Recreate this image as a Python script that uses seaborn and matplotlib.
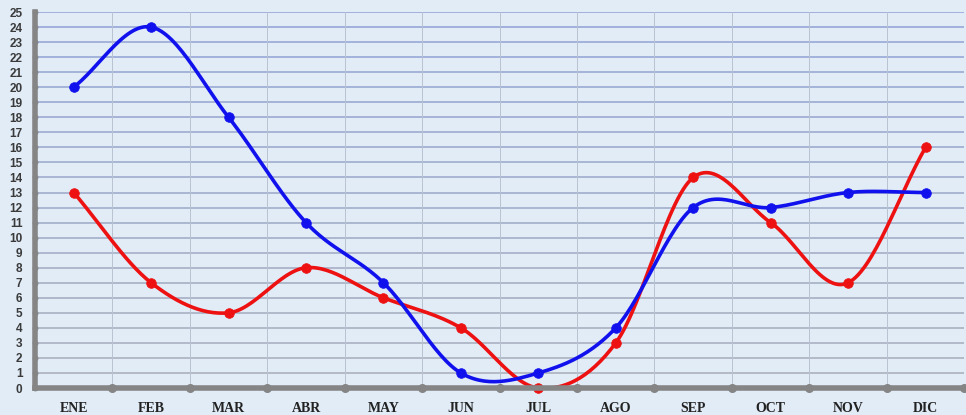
import numpy as np
import pandas as pd
import matplotlib
matplotlib.use("Agg")
import matplotlib.pyplot as plt
import seaborn as sns

meses = ['ENE', 'FEB', 'MAR', 'ABR', 'MAY', 'JUN', 'JUL', 'AGO', 'SEP', 'OCT', 'NOV', 'DIC']
serie_azul = [20, 24, 18, 11, 7, 1, 1, 4, 12, 12, 13, 13]
serie_roja = [13, 7, 5, 8, 6, 4, 0, 3, 14, 11, 7, 16]
y_ticks = list(range(0, 26))


def suavizar(vals, n=30):
    # Catmull-Rom spline through the points
    p = np.array(vals, dtype=float)
    p = np.concatenate([[2 * p[0] - p[1]], p, [2 * p[-1] - p[-2]]])
    xs, ys = [], []
    for i in range(1, len(p) - 2):
        t = np.linspace(0, 1, n, endpoint=False)
        p0, p1, p2, p3 = p[i - 1], p[i], p[i + 1], p[i + 2]
        y = 0.5 * (2 * p1 + (-p0 + p2) * t + (2 * p0 - 5 * p1 + 4 * p2 - p3) * t ** 2
                   + (-p0 + 3 * p1 - 3 * p2 + p3) * t ** 3)
        xs.extend(i - 1 + t)
        ys.extend(y)
    xs.append(len(vals) - 1)
    ys.append(vals[-1])
    return np.array(xs), np.array(ys)


sns.set_style("white")

fig = plt.figure(figsize=(9.66, 4.15), dpi=100)
fig.patch.set_facecolor('#e1ecf7')
ax = fig.add_axes([0.0362, 0.065, 0.962, 0.906])
ax.set_facecolor('#e1ecf7')

# horizontal grid lines, bluish on top fading to gray below
for v in y_ticks[1:]:
    f = v / 25
    col = (0.66 - 0.10 * f, 0.68 - 0.05 * f, 0.72 + 0.12 * f)
    ax.axhline(v, color=col, lw=1.1, zorder=1)
for k in range(1, 12):
    ax.axvline(k - 0.5, color='#b8c2d0', lw=0.7, zorder=1)

for vals, color in [(serie_roja, '#ee1111'), (serie_azul, '#1111ee')]:
    sx, sy = suavizar(vals)
    df_s = pd.DataFrame({'x': sx, 'y': sy})
    sns.lineplot(data=df_s, x='x', y='y', ax=ax, color=color, lw=2.6, zorder=3, sort=False)
    df_p = pd.DataFrame({'x': np.arange(len(meses)), 'y': vals})
    sns.scatterplot(data=df_p, x='x', y='y', ax=ax, color=color, s=48, edgecolor=color,
                    zorder=4, clip_on=False)

ax.set_xlim(-0.5, 11.5)
ax.set_ylim(0, 25)
ax.set_xlabel('')
ax.set_ylabel('')

for s in ['top', 'right']:
    ax.spines[s].set_visible(False)
for s in ['left', 'bottom']:
    ax.spines[s].set_color('#858585')
    ax.spines[s].set_linewidth(4)
    ax.spines[s].set_zorder(5)

ax.set_yticks(y_ticks)
ax.set_yticklabels([str(v) for v in y_ticks], fontsize=8.5, fontweight='bold',
                   color='#3a3a3a', family='Liberation Sans')
ax.tick_params(axis='y', length=0, pad=9)

ax.set_xticks(range(len(meses)))
ax.set_xticklabels(meses, fontsize=10, fontweight='bold', color='#222222',
                   family='Liberation Serif')
ax.tick_params(axis='x', length=0, pad=10)

# dot tick marks on the axes
ax.scatter(np.arange(12) + 0.5, np.zeros(12), s=30, color='#858585', zorder=6, clip_on=False)
ax.scatter(np.full(26, -0.5), y_ticks, s=10, color='#858585', zorder=6, clip_on=False)

fig.savefig('out.png', dpi=100, facecolor=fig.get_facecolor())
